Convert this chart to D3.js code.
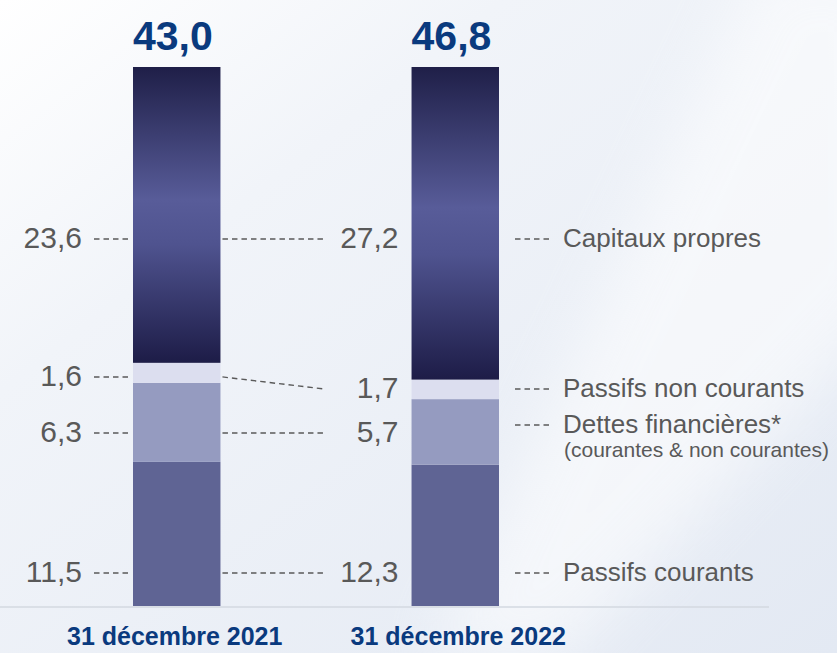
<!DOCTYPE html>
<html>
<head>
<meta charset="utf-8">
<script src="https://cdn.jsdelivr.net/npm/d3@7"></script>
<style>
  html, body { margin: 0; padding: 0; background: #fff; }
  svg { display: block; }
</style>
</head>
<body>
<svg id="chart" width="837" height="653"></svg>
<script>
// Bilan (Md€) - chart data
const dates = ['31 décembre 2021', '31 décembre 2022'];
const totals = ['43,0', '46,8'];
const segments = ['Passifs courants', 'Dettes financières*', 'Passifs non courants', 'Capitaux propres'];
const values2021 = [11.5, 6.3, 1.6, 23.6];
const values2022 = [12.3, 5.7, 1.7, 27.2];
const segmentNote = ['', '(courantes & non courantes)', '', ''];

const seriesValues = [values2021, values2022];
const fmt = v => d3.format('.1f')(v).replace('.', ',');

// Layout
const W = 837, H = 653;
const plotBase = 606, plotTop = 67;
const svg = d3.select('#chart');

const x = d3.scaleBand()
    .domain(dates)
    .range([133, 499])
    .paddingInner(0.686)
    .paddingOuter(0);
const bw = x.bandwidth();

// 100% stacked : share of each bar
const y = d3.scaleLinear().domain([0, 1]).range([plotBase, plotTop]);

// label anchors (share of the axis), placed by hand in the original
const anchorLeft = [0.0612, 0.321, 0.425, 0.681];
const anchorMid = [0.0612, 0.321, 0.4026, 0.681];
const anchorLegend = [0.0612, 0.3358, 0.4026, 0.681];

const segColors = ['#5f6494', '#959bc0', '#dcdeef', 'url(#capGrad)'];

// ---- defs
const defs = svg.append('defs');
const bg = defs.append('linearGradient').attr('id', 'bgGrad')
    .attr('x1', '0').attr('y1', '0').attr('x2', '1').attr('y2', '1');
bg.append('stop').attr('offset', '0').attr('stop-color', '#ffffff');
bg.append('stop').attr('offset', '0.3').attr('stop-color', '#f1f4f9');
bg.append('stop').attr('offset', '1').attr('stop-color', '#e3e9f3');

const cap = defs.append('linearGradient').attr('id', 'capGrad')
    .attr('x1', '0').attr('y1', '0').attr('x2', '0').attr('y2', '1');
cap.append('stop').attr('offset', '0').attr('stop-color', '#1f1f48');
cap.append('stop').attr('offset', '0.45').attr('stop-color', '#585c99');
cap.append('stop').attr('offset', '0.6').attr('stop-color', '#4f538f');
cap.append('stop').attr('offset', '1').attr('stop-color', '#1d1c47');

const sheen = defs.append('filter').attr('id', 'blur')
    .attr('x', '-50%').attr('y', '-50%').attr('width', '200%').attr('height', '200%');
sheen.append('feGaussianBlur').attr('stdDeviation', 30);

// ---- background
svg.append('rect').attr('width', W).attr('height', H).attr('fill', 'url(#bgGrad)');
svg.append('path')
    .attr('d', 'M760,-40 L900,-40 L900,300 L560,660 L430,660 Z')
    .attr('fill', '#ffffff').attr('opacity', 0.55)
    .attr('filter', 'url(#blur)');

// ---- axis line
svg.append('line')
    .attr('x1', 0).attr('x2', 769)
    .attr('y1', plotBase + 1).attr('y2', plotBase + 1)
    .attr('stroke', '#d3d8e0').attr('stroke-width', 1.5);

// ---- stacked bars
const stacks = seriesValues.map(vals => {
    const total = d3.sum(vals);
    let acc = 0;
    return vals.map((v, i) => {
        const s = { i: i, v: v, y0: acc / total, y1: (acc + v) / total };
        acc += v;
        return s;
    });
});

const bars = svg.append('g').selectAll('g')
    .data(stacks)
    .join('g')
    .attr('transform', (d, k) => 'translate(' + x(dates[k]) + ',0)');

bars.selectAll('rect')
    .data(d => d)
    .join('rect')
    .attr('x', 0)
    .attr('width', bw)
    .attr('y', d => y(d.y1))
    .attr('height', d => y(d.y0) - y(d.y1))
    .attr('fill', d => segColors[d.i]);

// ---- totals
svg.append('g').selectAll('text')
    .data(totals)
    .join('text')
    .attr('x', (d, k) => x(dates[k]))
    .attr('y', 50)
    .attr('font-family', 'Liberation Sans, Arial, sans-serif')
    .attr('font-weight', 'bold')
    .attr('font-size', 41)
    .attr('fill', '#0a3a7e')
    .text(d => d);

// ---- dates
svg.append('g').selectAll('text')
    .data(dates)
    .join('text')
    .attr('x', d => x(d) + bw / 2 + (d === dates[0] ? -2 : 3))
    .attr('y', 645)
    .attr('text-anchor', 'middle')
    .attr('font-family', 'Liberation Sans, Arial, sans-serif')
    .attr('font-weight', 'bold')
    .attr('font-size', 25)
    .attr('fill', '#0a3a7e')
    .text(d => d);

// ---- value labels and connectors
const dash = g => g.attr('stroke', '#5a5a5a').attr('stroke-width', 1.4)
    .attr('stroke-dasharray', '5.5 4').attr('fill', 'none');
const valueText = g => g.attr('font-family', 'Liberation Sans, Arial, sans-serif')
    .attr('font-size', 30).attr('fill', '#595959').attr('text-anchor', 'end');

const x1 = x(dates[0]), x2 = x(dates[1]);
const lab = svg.append('g');

// bar 1 : labels on the left
segments.forEach((s, i) => {
    const yy = y(anchorLeft[i]);
    lab.append('line').call(dash)
        .attr('x1', 94).attr('x2', x1 - 1).attr('y1', yy).attr('y2', yy);
    lab.append('text').call(valueText)
        .attr('x', 82).attr('y', yy + 9)
        .text(fmt(values2021[i]));
});

// bar 2 : labels between bars, linked to bar 1
segments.forEach((s, i) => {
    const ya = y(anchorLeft[i]), yb = y(anchorMid[i]);
    lab.append('line').call(dash)
        .attr('x1', x1 + bw + 2).attr('x2', 324).attr('y1', ya).attr('y2', yb);
    lab.append('text').call(valueText)
        .attr('x', x2 - 13).attr('y', yb + 9)
        .text(fmt(values2022[i]));
});

// legend on the right
segments.forEach((s, i) => {
    const yy = y(anchorLegend[i]);
    lab.append('line').call(dash)
        .attr('x1', x2 + bw + 16).attr('x2', 549).attr('y1', yy).attr('y2', yy);
    lab.append('text')
        .attr('x', 563).attr('y', yy + 8)
        .attr('font-family', 'Liberation Sans, Arial, sans-serif')
        .attr('font-size', 26).attr('fill', '#595959')
        .text(s);
    if (segmentNote[i]) {
        lab.append('text')
            .attr('x', 564).attr('y', yy + 32)
            .attr('font-family', 'Liberation Sans, Arial, sans-serif')
            .attr('font-size', 21).attr('fill', '#595959')
            .text(segmentNote[i]);
    }
});
</script>
</body>
</html>
